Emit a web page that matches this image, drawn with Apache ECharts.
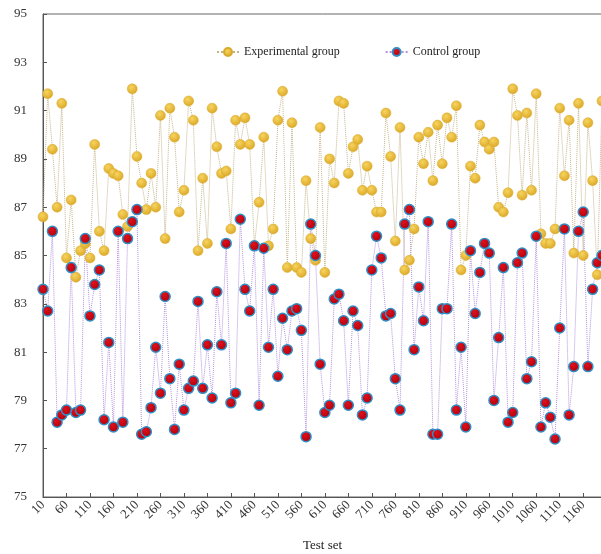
<!DOCTYPE html>
<html>
<head>
<meta charset="utf-8">
<script src="https://cdn.jsdelivr.net/npm/echarts@6/dist/echarts.min.js"></script>
<style>
  html, body { margin: 0; padding: 0; background: #fff; }
  #chart { width: 601px; height: 554px; }
</style>
</head>
<body>
<div id="chart"></div>
<script>
const testSets = [
  10, 20, 30, 40, 50, 60, 70, 80, 90, 100, 110, 120, 130, 140, 150, 160, 170, 180, 190, 200,
  210, 220, 230, 240, 250, 260, 270, 280, 290, 300, 310, 320, 330, 340, 350, 360, 370, 380, 390, 400,
  410, 420, 430, 440, 450, 460, 470, 480, 490, 500, 510, 520, 530, 540, 550, 560, 570, 580, 590, 600,
  610, 620, 630, 640, 650, 660, 670, 680, 690, 700, 710, 720, 730, 740, 750, 760, 770, 780, 790, 800,
  810, 820, 830, 840, 850, 860, 870, 880, 890, 900, 910, 920, 930, 940, 950, 960, 970, 980, 990, 1000,
  1010, 1020, 1030, 1040, 1050, 1060, 1070, 1080, 1090, 1100, 1110, 1120, 1130, 1140, 1150, 1160, 1170, 1180, 1190, 1200
]

const experimental = [
  86.6, 91.7, 89.4, 87.0, 91.3, 84.9, 87.3, 84.1, 85.2, 85.5,
  84.9, 89.6, 86.0, 85.2, 88.6, 88.4, 88.3, 86.7, 86.2, 91.9,
  89.1, 88.0, 86.9, 88.4, 87.0, 90.8, 85.7, 91.1, 89.9, 86.8,
  87.7, 91.4, 90.6, 85.2, 88.2, 85.5, 91.1, 89.5, 88.4, 88.5,
  86.1, 90.6, 89.6, 90.7, 89.6, 85.4, 87.2, 89.9, 85.4, 86.1,
  90.6, 91.8, 84.5, 90.5, 84.5, 84.3, 88.1, 85.7, 84.8, 90.3,
  84.3, 89.0, 88.0, 91.4, 91.3, 88.4, 89.5, 89.8, 87.7, 88.7,
  87.7, 86.8, 86.8, 90.9, 89.1, 85.6, 90.3, 84.4, 84.8, 86.1,
  89.9, 88.8, 90.1, 88.1, 90.4, 88.8, 90.7, 89.9, 91.2, 84.4,
  85.0, 88.7, 88.2, 90.4, 89.7, 89.4, 89.7, 87.0, 86.8, 87.6,
  91.9, 90.8, 87.5, 90.9, 87.7, 91.7, 85.9, 85.5, 85.5, 86.1,
  91.1, 88.3, 90.6, 85.1, 91.3, 85.0, 90.5, 88.1, 84.2, 91.4
]

const control = [
  83.6, 82.7, 86.0, 78.1, 78.4, 78.6, 84.5, 78.5, 78.6, 85.7,
  82.5, 83.8, 84.4, 78.2, 81.4, 77.9, 86.0, 78.1, 85.7, 86.4,
  86.9, 77.6, 77.7, 78.7, 81.2, 79.3, 83.3, 79.9, 77.8, 80.5,
  78.6, 79.5, 79.8, 83.1, 79.5, 81.3, 79.1, 83.5, 81.3, 85.5,
  78.9, 79.3, 86.5, 83.6, 82.7, 85.4, 78.8, 85.3, 81.2, 83.6,
  80.0, 82.4, 81.1, 82.7, 82.8, 81.9, 77.5, 86.3, 85.0, 80.5,
  78.5, 78.8, 83.2, 83.4, 82.3, 78.8, 82.7, 82.1, 78.4, 79.1,
  84.4, 85.8, 84.9, 82.5, 82.6, 79.9, 78.6, 86.3, 86.9, 81.1,
  83.7, 82.3, 86.4, 77.6, 77.6, 82.8, 82.8, 86.3, 78.6, 81.2,
  77.9, 85.2, 82.6, 84.3, 85.5, 85.1, 79.0, 81.6, 84.5, 78.1,
  78.5, 84.7, 85.1, 79.9, 80.6, 85.8, 77.9, 78.9, 78.3, 77.4,
  82.0, 86.1, 78.4, 80.4, 86.0, 86.8, 80.4, 83.6, 84.7, 85.0
]

const font = '"Liberation Serif", "DejaVu Serif", serif'

const chart = echarts.init(document.getElementById('chart'))

// shaded balls like the original markers
const goldFill = new echarts.graphic.RadialGradient(0.4, 0.35, 0.7, [
  { offset: 0, color: '#f7d45e' },
  { offset: 1, color: '#d9a524' }
])
const redFill = new echarts.graphic.RadialGradient(0.4, 0.35, 0.7, [
  { offset: 0, color: '#e0101a' },
  { offset: 1, color: '#a8000d' }
])

const option = {
  animation: false,
  backgroundColor: '#fff',
  grid: {
    left: 43,
    right: -1,
    top: 14,
    bottom: 57,
    containLabel: false,
    outerBoundsMode: 'none',
    show: true,
    borderColor: '#666',
    borderWidth: 1
  },
  legend: {
    top: 41,
    left: 211,
    itemGap: 45,
    itemWidth: 22,
    itemHeight: 10,
    textStyle: { fontFamily: font, fontSize: 12, color: '#222' },
    data: ['Experimental group', 'Control group']
  },
  xAxis: {
    type: 'category',
    data: testSets,
    boundaryGap: false,
    name: 'Test set',
    nameLocation: 'middle',
    nameGap: 42,
    nameTextStyle: { fontFamily: font, fontSize: 13, color: '#222' },
    axisLine: { lineStyle: { color: '#555', width: 1 } },
    axisTick: { interval: 4, inside: true, length: 4, lineStyle: { color: '#555' } },
    axisLabel: {
      interval: 4,
      rotate: 45,
      margin: 6,
      fontFamily: font,
      fontSize: 13,
      color: '#333'
    },
    splitLine: { show: false }
  },
  yAxis: {
    type: 'value',
    min: 75,
    max: 95,
    interval: 2,
    name: 'Recall',
    nameLocation: 'middle',
    nameGap: 27,
    nameRotate: 90,
    nameTextStyle: { fontFamily: font, fontSize: 13, color: '#222' },
    axisLine: { show: true, lineStyle: { color: '#555', width: 1 } },
    axisTick: { show: true, inside: true, length: 4, lineStyle: { color: '#555' } },
    axisLabel: { fontFamily: font, fontSize: 13, color: '#333', margin: 16 },
    splitLine: { show: false }
  },
  series: [
    {
      name: 'Experimental group',
      type: 'line',
      data: experimental,
      symbol: 'circle',
      symbolSize: 10,
      showAllSymbol: true,
      lineStyle: { type: 'dotted', color: '#c4b48a', width: 1 },
      itemStyle: { color: goldFill, borderColor: '#d8aa2c', borderWidth: 0.5 }
    },
    {
      name: 'Control group',
      type: 'line',
      data: control,
      symbol: 'circle',
      symbolSize: 10,
      showAllSymbol: true,
      lineStyle: { type: 'dotted', color: '#b393dc', width: 1 },
      itemStyle: { color: redFill, borderColor: '#2f8fc6', borderWidth: 1.5 }
    }
  ]
}

chart.setOption(option)
</script>
</body>
</html>
